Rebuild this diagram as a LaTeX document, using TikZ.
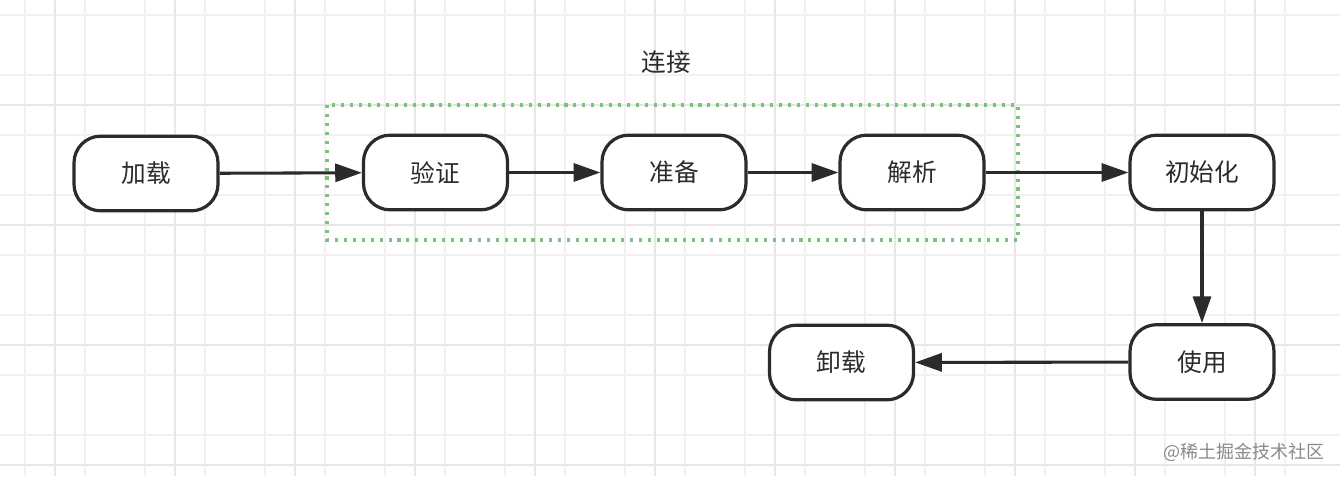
\documentclass[tikz,border=0pt]{standalone}
\usepackage{fontspec}
\setmainfont{Noto Sans CJK SC}
\usetikzlibrary{arrows.meta}
\definecolor{gridminor}{HTML}{F1F1F1}
\definecolor{gridmajor}{HTML}{E7E7E7}
\definecolor{edge}{HTML}{2B2B2B}
\definecolor{grp}{HTML}{7DC17D}
\definecolor{wm}{HTML}{8A8A8A}
\tikzset{
  stage/.style={draw=edge, line width=2.4pt, fill=white, rounded corners=20pt,
    minimum width=108pt, minimum height=56pt, inner sep=0pt,
    font=\fontsize{18.5pt}{22pt}\selectfont, text=edge},
  flow/.style={draw=edge, line width=2.3pt, -{Triangle[length=20pt,width=13.5pt]}},
  groupbox/.style={draw=grp, line width=2.4pt, dash pattern=on 2.3pt off 4.4pt},
}
\begin{document}
\begin{tikzpicture}[x=0.75pt, y=-0.75pt]
\useasboundingbox (0,0) rectangle (1340,476);
\fill[white] (0,0) rectangle (1340,476);
% grid
\foreach \gx in {25,85,...,1340} \draw[gridminor, line width=1.2pt] (\gx,0) -- (\gx,476);
\foreach \gy in {15,75,...,476} \draw[gridminor, line width=1.2pt] (0,\gy) -- (1340,\gy);
\foreach \gx in {55,175,...,1340} \draw[gridmajor, line width=1.4pt] (\gx,0) -- (\gx,476);
\foreach \gy in {105,225,...,476} \draw[gridmajor, line width=1.4pt] (0,\gy) -- (1340,\gy);
% group box
\draw[groupbox] (327,105) rectangle (1018,240);
\node[font=\fontsize{18.5pt}{22pt}\selectfont, text=edge] (lbl) at (666,62) {连接};
% nodes
\node[stage] (load) at (146,173.5) {加载};
\node[stage] (verify) at (435.5,172.5) {验证};
\node[stage] (prep) at (674,172.5) {准备};
\node[stage] (resolve) at (912,172.5) {解析};
\node[stage] (init) at (1202,172.5) {初始化};
\node[stage] (use) at (1202,362) {使用};
\node[stage] (unload) at (841.5,362.5) {卸载};
% connectors
\draw[flow] (load) -- (verify);
\draw[flow] (verify) -- (prep);
\draw[flow] (prep) -- (resolve);
\draw[flow] (resolve) -- (init);
\draw[flow] (init) -- (use);
\draw[flow] (use) -- (unload);
% watermark
\node[anchor=east, font=\fontsize{13.5pt}{16pt}\selectfont, text=wm, inner sep=0pt] (wmk) at (1325,452) {@稀土掘金技术社区};
\end{tikzpicture}
\end{document}
